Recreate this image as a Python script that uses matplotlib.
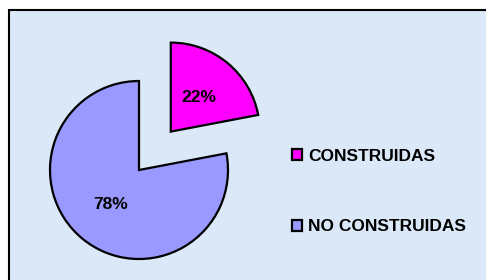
import matplotlib
matplotlib.use("Agg")
import matplotlib.pyplot as plt
from matplotlib.patches import Rectangle

# Datos
categorias = ["CONSTRUIDAS", "NO CONSTRUIDAS"]
valores = [22, 78]
colores = ["#FF00FF", "#9999FF"]
separacion = [0.56, 0]  # fraccion del radio

plt.rcParams["font.family"] = ["Liberation Sans", "DejaVu Sans"]

fig = plt.figure(figsize=(4.86, 2.80), dpi=100)
fig.patch.set_facecolor("white")

ax = fig.add_axes([0, 0, 1, 1])
ax.axis("off")

# Marco del grafico (fondo azul claro)
ax.add_patch(Rectangle((9, -10), 500, 280, facecolor="#DAE8F8", edgecolor="black",
                       linewidth=1.5, zorder=0, clip_on=False))

radio = 89
wedges, textos, pcts = ax.pie(valores, colors=colores,
                              explode=[s * radio for s in separacion],
                              startangle=90, counterclock=False,
                              center=(139, 110), radius=radio,
                              autopct="%1.0f%%", pctdistance=0.5,
                              wedgeprops=dict(edgecolor="black", linewidth=1.6),
                              textprops=dict(fontsize=12.5, fontweight="bold", color="black"))
ax.set_xlim(0, 486)
ax.set_ylim(0, 280)
ax.set_aspect("equal")
ax.axis("off")

leg = ax.legend(wedges, categorias, loc="center left", bbox_to_anchor=(276 / 486, 0.316),
                frameon=False, handlelength=0.6, handleheight=0.6, handletextpad=0.35,
                labelspacing=3.2, prop=dict(size=12.5, weight="bold"))

plt.savefig("out.png", dpi=100)
plt.close()
